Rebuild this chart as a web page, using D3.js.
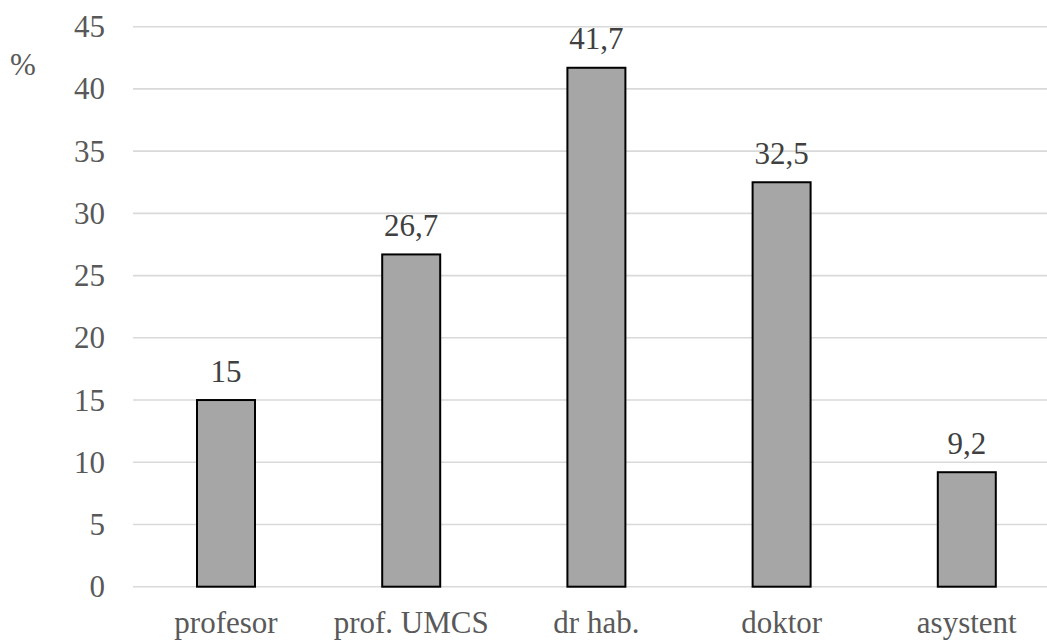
<!DOCTYPE html>
<html><head><meta charset="utf-8">
<script src="https://cdn.jsdelivr.net/npm/d3@7"></script>
<style>body{margin:0;background:#fff}svg{display:block}
text{font-family:"Liberation Serif","Times New Roman",Times,"DejaVu Serif",serif;font-size:31px}</style>
</head><body>
<svg id="c" width="1047" height="640"></svg>
<script>
const categories = ["profesor", "prof. UMCS", "dr hab.", "doktor", "asystent"];
const values = [15, 26.7, 41.7, 32.5, 9.2];
const valueLabels = ["15", "26,7", "41,7", "32,5", "9,2"];
const yTicks = [0, 5, 10, 15, 20, 25, 30, 35, 40, 45];
const yUnit = "%";

const svg = d3.select("#c");
const x = d3.scaleBand().domain(categories).range([133.4, 1059.4]);
const y = d3.scaleLinear().domain([0, 45]).range([586.7, 26.7]);
const barW = 58;

svg.append("g").selectAll("line").data(yTicks).join("line")
  .attr("x1", 133).attr("x2", 1060)
  .attr("y1", d => y(d)).attr("y2", d => y(d))
  .attr("stroke", "#d9d9d9").attr("stroke-width", 1.6);

svg.append("g").selectAll("text").data(yTicks).join("text")
  .attr("x", 105).attr("y", d => y(d) + 10.5)
  .attr("text-anchor", "end")
  .attr("fill", "#595959").text(d => d);

svg.append("text").attr("x", 10).attr("y", 75)
  .attr("fill", "#595959").text(yUnit);

svg.append("g").selectAll("rect").data(values).join("rect")
  .attr("x", (d, i) => x(categories[i]) + x.bandwidth() / 2 - barW / 2)
  .attr("width", barW)
  .attr("y", d => y(d)).attr("height", d => y(0) - y(d))
  .attr("fill", "#a6a6a6").attr("stroke", "#000").attr("stroke-width", 2);

svg.append("g").selectAll("text").data(values).join("text")
  .attr("x", (d, i) => x(categories[i]) + x.bandwidth() / 2)
  .attr("y", d => y(d) - 18.5)
  .attr("text-anchor", "middle")
  .attr("fill", "#404040").text((d, i) => valueLabels[i]);

svg.append("g").selectAll("text").data(categories).join("text")
  .attr("x", d => x(d) + x.bandwidth() / 2).attr("y", 633)
  .attr("text-anchor", "middle")
  .attr("fill", "#595959").text(d => d);
</script>
</body></html>
